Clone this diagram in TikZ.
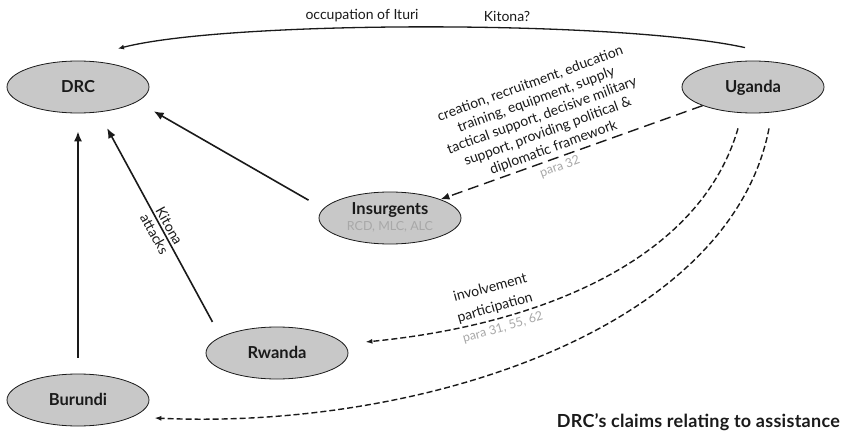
\documentclass[tikz,border=0pt]{standalone}
\usepackage{fontspec}
\setmainfont{Lato}
\usetikzlibrary{arrows.meta,shapes.geometric}
\definecolor{nodefill}{HTML}{C8C8C8}
\definecolor{paragray}{HTML}{A8A8A8}
\definecolor{ink}{HTML}{1A1A1A}
\begin{document}
\begin{tikzpicture}[x=1pt,y=-1pt,
  party/.style={ellipse, draw=ink, line width=0.8pt, fill=nodefill,
    minimum width=142pt, minimum height=52pt, inner sep=0pt,
    font=\fontsize{16.5}{18}\selectfont\bfseries, text=ink,
    text height=11.8pt, text depth=0pt},
  partytext/.style={font=\fontsize{16.5}{18}\selectfont\bfseries, text=ink, inner sep=0pt},
  titletext/.style={font=\fontsize{18}{20}\selectfont\bfseries\addfontfeatures{LetterSpace=1.5}, text=ink, inner sep=0pt},
  lbl/.style={font=\fontsize{14}{17}\selectfont, text=ink, inner sep=0pt},
  ref/.style={font=\fontsize{12.5}{14}\selectfont, text=paragray, inner sep=0pt},
  solidarrow/.style={line width=1.6pt, draw=ink, -{Latex[length=10pt,width=8pt]}},
  toparrow/.style={line width=1.3pt, draw=ink, -{Latex[length=6pt,width=5pt]}},
  dasharrow/.style={line width=1.4pt, draw=ink, dash pattern=on 6pt off 3pt, -{Latex[length=7pt,width=5pt]}},
  longdash/.style={line width=1.4pt, draw=ink, dash pattern=on 11pt off 6pt, -{Latex[length=9pt,width=7pt]}}
]
\fill[white] (0,0) rectangle (846,433);
\useasboundingbox (0,0) rectangle (846,433);

% parties
\node[party] (drc) at (78,87) {DRC};
\node[party] (uga) at (753,87) {Uganda};
\node[party] (ins) at (390,218) {};
\node[partytext, anchor=base] (insname) at (390,214) {Insurgents};
\node[ref, anchor=base] (insgroups) at (390,230) {RCD, MLC, ALC};
\node[party] (rw) at (277,353) {Rwanda};
\node[party] (bur) at (78,400) {Burundi};

% helper coordinates
\coordinate (topstart) at ([shift={(-8,-13)}]uga.north);
\coordinate (topend) at ([shift={(40,-12)}]drc.north);
\coordinate (u1) at ([shift={(-15,15)}]uga.south);
\coordinate (u2) at ([shift={(16,15)}]uga.south);
\coordinate (r1) at ([shift={(17,-11)}]rw.east);
\coordinate (b1) at ([shift={(5,18)}]bur.east);

% top arc Uganda -> DRC
\draw[toparrow] (topstart) .. controls (620,20) and (230,20) .. (topend);
\node[lbl, anchor=base] (occ) at (362,20) {occupation of Ituri};
\node[lbl, anchor=base] (kit) at (507,22) {Kitona?};

% solid arrows to DRC
\draw[solidarrow, shorten <=16pt, shorten >=18pt] (bur.north) -- (drc.south);
\draw[solidarrow, shorten <=17pt, shorten >=18pt] (rw.164) -- (drc.-51);
\draw[solidarrow, shorten <=17pt, shorten >=19pt] (ins.172) -- (drc.-14);
\node[lbl, align=center, rotate=-61] (kitatt) at (162,230) {Kitona\\attacks};

% dashed arrows from Uganda
\draw[longdash] (uga.south west) -- (ins.north east);
\node[lbl, align=center, rotate=20] (assist) at (542,116)
  {creation, recruitment, education\\training, equipment, supply\\tactical support, decisive military\\support, providing political \&\\diplomatic framework};
\node[ref, rotate=20] (p32) at (560,167) {para 32};

\draw[dasharrow] (u1) .. controls (700,260) and (540,325) .. (r1);
\node[lbl, rotate=15] (invl) at (490,287) {involvement};
\node[lbl, rotate=16] (part) at (495,308) {participation};
\node[ref, rotate=16] (p31) at (503,328) {para 31, 55, 62};

\draw[dasharrow] (u2) .. controls (730,330) and (420,430) .. (b1);

% title
\node[titletext, anchor=base east] (title) at (840,427) {DRC’s claims relating to assistance};
\end{tikzpicture}
\end{document}
